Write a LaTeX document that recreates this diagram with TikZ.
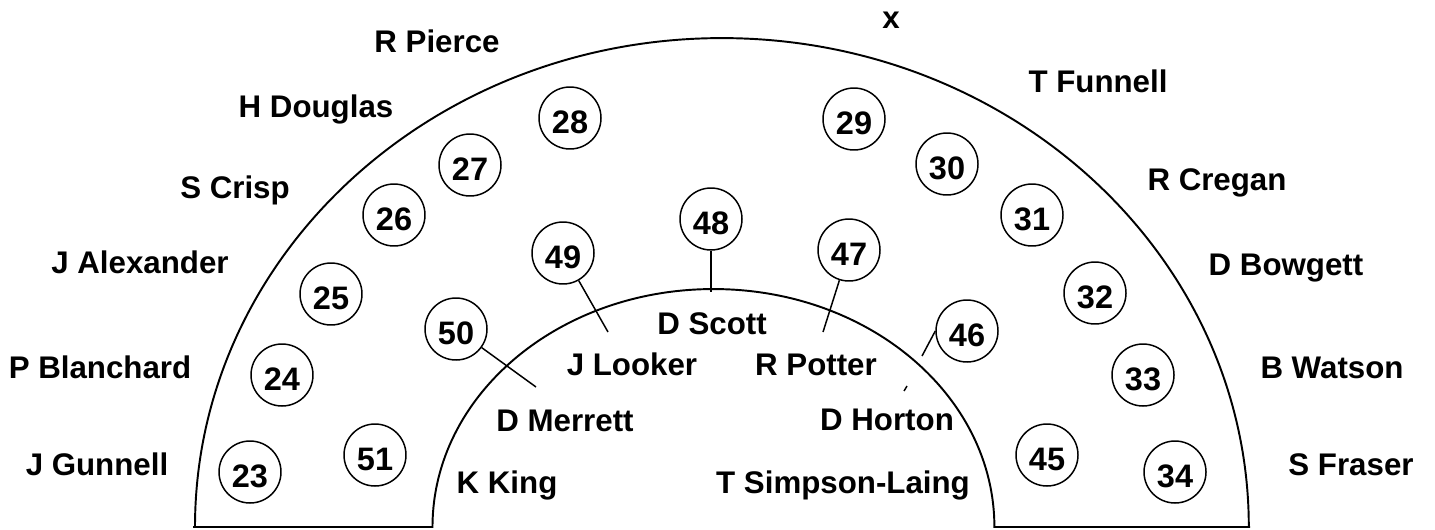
\documentclass[tikz,border=0pt]{standalone}
\usepackage{fontspec}
\setmainfont{Liberation Sans}

\begin{document}
\begin{tikzpicture}[x=0.02cm, y=0.02cm, line width=1.1pt,
        seat/.style = {draw, circle, line width=0.85pt, minimum size=1.24cm, inner sep=0pt, text height=0.6cm, text depth=0pt, font=\fontsize{18.5}{20}\selectfont\bfseries},
        member/.style = {anchor=base, inner sep=0pt, font=\fontsize{17.8}{21}\selectfont\bfseries},
        link/.style = {line width=0.85pt}]
        \useasboundingbox (0,0) rectangle (1435,529);

        % benches
        \draw (195,2) arc[start angle=180, end angle=0, x radius=10.54cm, y radius=9.78cm];
        \draw (193,2) -- (432.5,2) arc[start angle=180, end angle=0, x radius=5.62cm, y radius=4.76cm] -- (1250,2);

        % outer seats
        \node[seat] (23) at (250,57) {23};
        \node[seat] (24) at (282,154) {24};
        \node[seat] (25) at (331,235) {25};
        \node[seat] (26) at (394,314) {26};
        \node[seat] (27) at (470,364) {27};
        \node[seat] (28) at (570,411) {28};
        \node[seat] (29) at (854,410) {29};
        \node[seat] (30) at (947,365) {30};
        \node[seat] (31) at (1032,314) {31};
        \node[seat] (32) at (1095,236) {32};
        \node[seat] (33) at (1143,154) {33};
        \node[seat] (34) at (1175,57) {34};

        % inner seats
        \node[seat] (45) at (1047,74) {45};
        \node[seat] (46) at (967,198) {46};
        \node[seat] (47) at (849,279) {47};
        \node[seat] (48) at (711,310) {48};
        \node[seat] (49) at (563,276) {49};
        \node[seat] (50) at (456,200) {50};
        \node[seat] (51) at (375,74) {51};

        % names
        \node[member] (x) at (891,501) {x};
        \node[member] (pierce) at (437,477) {R Pierce};
        \node[member] (douglas) at (316,412) {H Douglas};
        \node[member] (crisp) at (235,331) {S Crisp};
        \node[member] (alexander) at (140,256) {J Alexander};
        \node[member] (blanchard) at (100,151) {P Blanchard};
        \node[member] (gunnell) at (97,54) {J Gunnell};
        \node[member] (funnell) at (1098,437) {T Funnell};
        \node[member] (cregan) at (1217,339) {R Cregan};
        \node[member] (bowgett) at (1286,254) {D Bowgett};
        \node[member] (watson) at (1332,151) {B Watson};
        \node[member] (fraser) at (1351,54) {S Fraser};
        \node[member] (scott) at (712,195) {D Scott};
        \node[member] (looker) at (632,154) {J Looker};
        \node[member] (potter) at (816,154) {R Potter};
        \node[member] (merrett) at (565,98) {D Merrett};
        \node[member] (horton) at (887,99) {D Horton};
        \node[member] (king) at (507,36) {K King};
        \node[member] (simpson) at (843,36) {T Simpson-Laing};

        \coordinate (e50) at (536,142);
        \coordinate (e49) at (608,197);
        \coordinate (e48) at (711,237);
        \coordinate (e47) at (823,197);
        \coordinate (e46) at (922,173);
        \coordinate (t46a) at (907,143);
        \coordinate (t46b) at (904,138);

        \draw[-, link] (50) -- (e50);
        \draw[-, link] (49) -- (e49);
        \draw[-, link] (48) -- (e48);
        \draw[-, link] (47) -- (e47);
        \draw[-, link] (46.west) -- (e46);
        \draw[-, link] (t46a) -- (t46b);

    \end{tikzpicture}
\end{document}
